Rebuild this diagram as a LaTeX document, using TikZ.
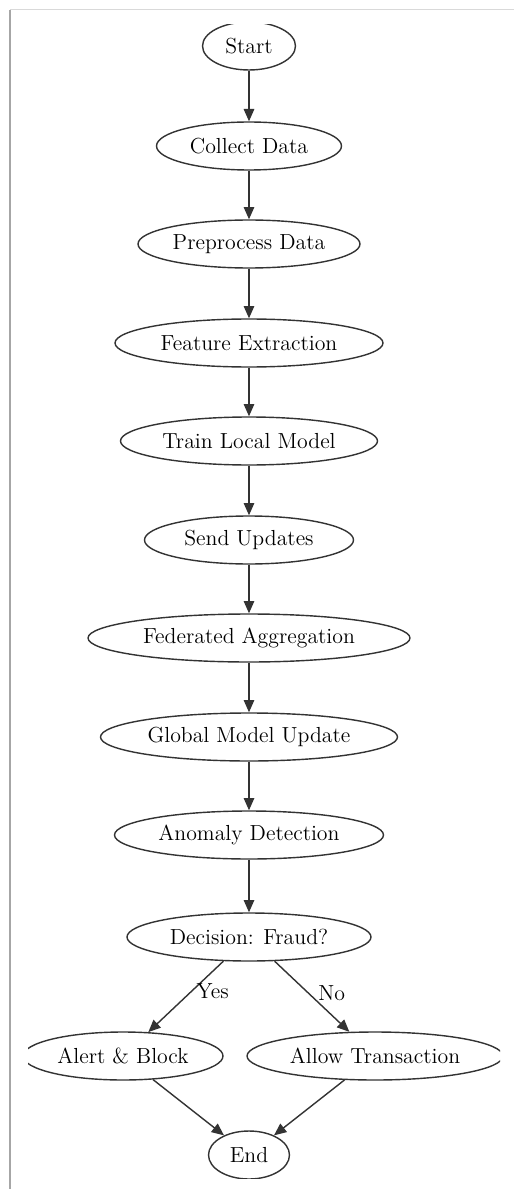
\documentclass[tikz,border=0pt]{standalone}
\usetikzlibrary{shapes.geometric,arrows.meta}

\tikzset{
  stage/.style={draw, ellipse, thick, draw=black!80, inner sep=0pt,
    minimum height=0.96cm, font=\fontsize{12.4}{15}\selectfont},
  flow/.style={thick, draw=black!80, -{Triangle[length=7pt,width=6pt]}},
  answer/.style={font=\fontsize{12.4}{15}\selectfont}
}

\begin{document}
\begin{tikzpicture}[x=0.02cm, y=-0.02cm]
  \useasboundingbox (0,0) rectangle (514,1189);

  % Page frame of the screenshot
  \draw[black!35, line width=1.5pt] (10,10) -- (10,1189);
  \draw[black!15] (10,9) -- (514,9);

  \begin{scope}
    \clip (28,25) rectangle (500,1178);

    % Main chain of stages
    \foreach \name/\y/\w/\txt in {start/46/93/Start, collect/146/185/Collect Data,
      prep/244/222/Preprocess Data, feat/343/268/Feature Extraction,
      train/441/257/Train Local Model, send/540/209/Send Updates,
      fedagg/638/322/Federated Aggregation, global/737/297/Global Model Update,
      anomaly/835/269/Anomaly Detection, decide/937/244/Decision: Fraud?}
    {
      \node[stage, minimum width={\w*0.02cm}] (\name) at (249,\y) {\txt};
    }

    % Outcomes
    \node[stage, minimum width=4cm] (alert) at (123,1056) {Alert \& Block};
    \node[stage, minimum width=5.12cm] (allow) at (375,1056) {Allow Transaction};
    \node[stage, minimum width=1.62cm] (end) at (249,1155) {End};

    % Connectors
    \foreach \a/\b in {start/collect, collect/prep, prep/feat, feat/train,
      train/send, send/fedagg, fedagg/global, global/anomaly, anomaly/decide}
    {
      \draw[flow] (\a) -- (\b);
    }
    \draw[flow] (decide) -- node[answer, pos=0.42, right=-1pt] {Yes} (alert);
    \draw[flow] (decide) -- node[answer, pos=0.45, right=2pt] {No} (allow);
    \draw[flow] (alert) -- (end);
    \draw[flow] (allow) -- (end);
  \end{scope}
\end{tikzpicture}
\end{document}
